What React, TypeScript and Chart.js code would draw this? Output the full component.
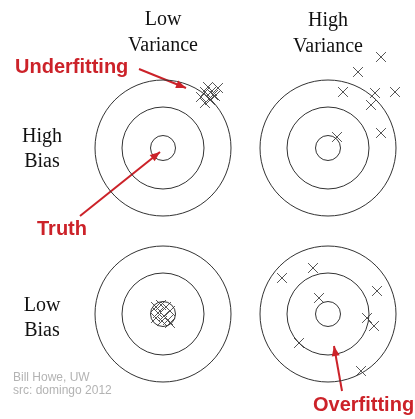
import React, { useEffect, useRef } from "react";
import { Chart, registerables } from "chart.js";

Chart.register(...registerables);

// Target centres and ring radii (pixel-like units of the 415x419 canvas)
const targetCenters = [
  { x: 163, y: 148 },
  { x: 328, y: 148 },
  { x: 163, y: 314 },
  { x: 328, y: 314 },
];
const ringRadii = [12.5, 41, 68];

// Shots
const lowVarHighBias = [
  { x: 201, y: 97 }, { x: 205, y: 92 }, { x: 208, y: 87 }, { x: 212, y: 91 },
  { x: 215, y: 96 }, { x: 210, y: 100 }, { x: 205, y: 103 }, { x: 218, y: 88 },
  { x: 213, y: 95 },
];
const highVarHighBias = [
  { x: 381, y: 57 }, { x: 358, y: 72 }, { x: 343, y: 92 }, { x: 375, y: 93 },
  { x: 395, y: 92 }, { x: 371, y: 105 }, { x: 381, y: 133 }, { x: 337, y: 137 },
];
const lowVarLowBias = [
  { x: 156, y: 307 }, { x: 161, y: 305 }, { x: 166, y: 307 }, { x: 170, y: 311 },
  { x: 158, y: 313 }, { x: 164, y: 316 }, { x: 168, y: 320 }, { x: 156, y: 318 },
  { x: 162, y: 321 }, { x: 170, y: 323 },
];
const highVarLowBias = [
  { x: 282, y: 278 }, { x: 313, y: 268 }, { x: 377, y: 291 }, { x: 319, y: 298 },
  { x: 367, y: 318 }, { x: 374, y: 326 }, { x: 299, y: 343 }, { x: 361, y: 371 },
];

// Arrows (tail -> head)
const underfitArrow = [{ x: 139, y: 69 }, { x: 186, y: 88 }];
const truthArrow = [{ x: 80, y: 216 }, { x: 160, y: 152 }];
const overfitArrow = [{ x: 342, y: 391 }, { x: 334, y: 346 }];

// Labels
const headerLabels = [
  { text: "Low", x: 163, y: 25 },
  { text: "Variance", x: 163, y: 51 },
  { text: "High", x: 328, y: 26 },
  { text: "Variance", x: 328, y: 52 },
  { text: "High", x: 42, y: 142 },
  { text: "Bias", x: 42, y: 167 },
  { text: "Low", x: 42, y: 311 },
  { text: "Bias", x: 42, y: 336 },
];
const redLabels = [
  { text: "Underfitting", x: 15, y: 73 },
  { text: "Truth", x: 37, y: 235 },
  { text: "Overfitting", x: 313, y: 411 },
];
const creditLabels = [
  { text: "Bill Howe, UW", x: 13, y: 381 },
  { text: "src: domingo 2012", x: 13, y: 394 },
];

const RED = "#cc2229";

const textPlugin = {
  id: "textLabels",
  afterDatasetsDraw(chart: any) {
    const { ctx, scales } = chart;
    const xs = scales.x;
    const ys = scales.y;
    ctx.save();
    ctx.textBaseline = "alphabetic";
    ctx.fillStyle = "#111";
    ctx.font = '20px "Liberation Serif", "Times New Roman", serif';
    ctx.textAlign = "center";
    headerLabels.forEach((l) => ctx.fillText(l.text, xs.getPixelForValue(l.x), ys.getPixelForValue(l.y)));
    ctx.fillStyle = RED;
    ctx.font = 'bold 20px "Liberation Sans", Arial, sans-serif';
    ctx.textAlign = "left";
    redLabels.forEach((l) => ctx.fillText(l.text, xs.getPixelForValue(l.x), ys.getPixelForValue(l.y)));
    ctx.fillStyle = "#b3b3b3";
    ctx.font = '12px "Liberation Sans", Arial, sans-serif';
    creditLabels.forEach((l) => ctx.fillText(l.text, xs.getPixelForValue(l.x), ys.getPixelForValue(l.y)));

    // arrowheads
    chart.data.datasets.forEach((ds: any, i: number) => {
      if (!ds.isArrow) return;
      const meta = chart.getDatasetMeta(i);
      const pts = meta.data;
      const a = pts[pts.length - 2];
      const b = pts[pts.length - 1];
      const ang = Math.atan2(b.y - a.y, b.x - a.x);
      const len = 10;
      const w = 4;
      ctx.fillStyle = RED;
      ctx.beginPath();
      ctx.moveTo(b.x, b.y);
      ctx.lineTo(b.x - len * Math.cos(ang) + w * Math.sin(ang), b.y - len * Math.sin(ang) - w * Math.cos(ang));
      ctx.lineTo(b.x - len * Math.cos(ang) - w * Math.sin(ang), b.y - len * Math.sin(ang) + w * Math.cos(ang));
      ctx.closePath();
      ctx.fill();
    });
    ctx.restore();
  },
};

const bgPlugin = {
  id: "bg",
  beforeDraw(chart: any) {
    const { ctx, width, height } = chart;
    ctx.save();
    ctx.fillStyle = "#ffffff";
    ctx.fillRect(0, 0, width, height);
    ctx.restore();
  },
};

export default function App() {
  const ref = useRef<HTMLCanvasElement>(null);
  useEffect(() => {
    document.body.style.margin = "0";
    const rings: any[] = [];
    targetCenters.forEach((c) => ringRadii.forEach((r) => rings.push({ x: c.x, y: c.y, r })));
    const crossDs = (data: any[]) => ({
      type: "scatter",
      data,
      pointStyle: "crossRot",
      pointRadius: 7,
      pointHoverRadius: 7,
      borderColor: "#555",
      borderWidth: 1,
      showLine: false,
    });
    const arrowDs = (data: any[]) => ({
      type: "line",
      data,
      borderColor: RED,
      borderWidth: 2,
      pointRadius: 0,
      fill: false,
      isArrow: true,
    });
    const chart = new Chart(ref.current as HTMLCanvasElement, {
      type: "bubble",
      data: {
        datasets: [
          {
            type: "bubble",
            data: rings,
            backgroundColor: "rgba(0,0,0,0)",
            borderColor: "#333",
            borderWidth: 1,
            hoverRadius: 0,
          } as any,
          crossDs(lowVarHighBias),
          crossDs(highVarHighBias),
          crossDs(lowVarLowBias),
          crossDs(highVarLowBias),
          arrowDs(underfitArrow),
          arrowDs(truthArrow),
          arrowDs(overfitArrow),
        ] as any,
      },
      options: {
        animation: false,
        responsive: false,
        events: [],
        layout: { padding: 0, autoPadding: false },
        plugins: { legend: { display: false }, tooltip: { enabled: false } },
        scales: {
          x: { type: "linear", min: 0, max: 415, display: false },
          y: { type: "linear", min: 0, max: 419, reverse: true, display: false },
        },
        clip: false as any,
      } as any,
      plugins: [bgPlugin, textPlugin],
    });
    return () => chart.destroy();
  }, []);
  return (
    <div style={{ position: "fixed", left: 0, top: 0 }}>
      <canvas ref={ref} width={415} height={419} style={{ width: 415, height: 419 }} />
    </div>
  );
}
